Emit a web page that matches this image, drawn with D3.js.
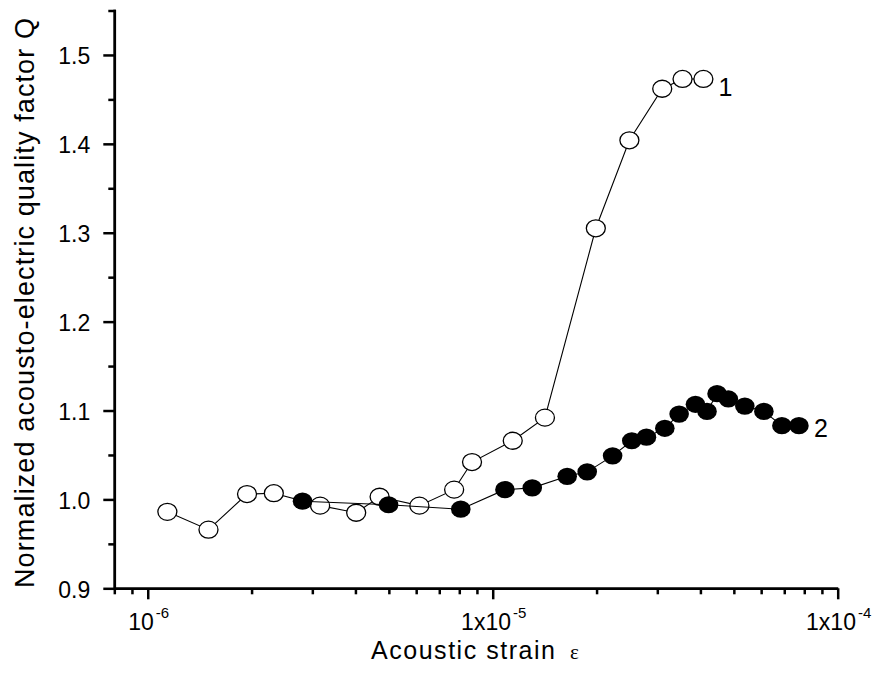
<!DOCTYPE html>
<html lang="en">
<head>
<meta charset="utf-8">
<script src="https://d3js.org/d3.v7.min.js"></script>
<style>
    body { margin: 0; background: white; }
    text { font-family: Arial, "Liberation Sans", sans-serif; fill: black; }
</style>
</head>
<body>
<div id="chart"></div>
<script>
    // curve 1 (open markers)
    const strain1 = [1.14e-6, 1.50e-6, 1.94e-6, 2.32e-6, 3.16e-6, 4.02e-6, 4.70e-6, 6.13e-6, 7.73e-6, 8.71e-6,
                     1.143e-5, 1.417e-5, 1.99e-5, 2.49e-5, 3.10e-5, 3.55e-5, 4.08e-5]
    const q1 = [0.986, 0.966, 1.006, 1.007, 0.993, 0.985, 1.003, 0.993, 1.011, 1.042,
                1.066, 1.092, 1.305, 1.404, 1.462, 1.473, 1.473]

    // curve 2 (filled markers)
    const strain2 = [2.81e-6, 4.99e-6, 8.08e-6, 1.085e-5, 1.302e-5, 1.644e-5, 1.879e-5, 2.226e-5, 2.53e-5, 2.79e-5,
                     3.154e-5, 3.47e-5, 3.87e-5, 4.18e-5, 4.47e-5, 4.82e-5, 5.38e-5, 6.11e-5, 6.89e-5, 7.72e-5]
    const q2 = [0.998, 0.994, 0.989, 1.011, 1.013, 1.026, 1.031, 1.049, 1.066, 1.070,
                1.080, 1.096, 1.107, 1.099, 1.119, 1.113, 1.105, 1.099, 1.083, 1.083]

    const xMajor = [1e-6, 1e-5, 1e-4]
    const xMajorLabels = [["10", "-6"], ["1x10", "-5"], ["1x10", "-4"]]
    const yMajor = [0.9, 1.0, 1.1, 1.2, 1.3, 1.4, 1.5]
    const yMinor = [0.95, 1.05, 1.15, 1.25, 1.35, 1.45, 1.55]

    const width = 877
    const height = 684

    const xScale = d3.scaleLog().domain([8e-7, 1e-4]).range([114.3, 837.7])
    const yScale = d3.scaleLinear().domain([0.9, 1.55]).range([588.3, 10.5])

    const xMinor = [8e-7, 9e-7]
    ;[1e-6, 1e-5].forEach(d => { for (let k = 2; k <= 9; k++) xMinor.push(k * d) })

    const svg = d3.select("#chart").append("svg")
        .attr("width", width)
        .attr("height", height)

    svg.append("rect").attr("width", width).attr("height", height).attr("fill", "white")

    // x axis
    const xAxisG = svg.append("g")
        .attr("transform", "translate(0," + yScale(0.9) + ")")
    xAxisG.append("g")
        .call(d3.axisBottom(xScale).tickValues(xMinor).tickSize(6).tickSizeOuter(0).tickFormat(""))
    xAxisG.append("g")
        .call(d3.axisBottom(xScale).tickValues(xMajor).tickSize(11).tickSizeOuter(0).tickFormat(""))
    xAxisG.selectAll("path, line").attr("stroke", "black").attr("stroke-width", 2.5)

    const xLab = svg.selectAll("text.xlab")
        .data(xMajor)
        .join("text")
        .attr("class", "xlab")
        .attr("x", d => xScale(d) + 1)
        .attr("y", 630)
        .attr("text-anchor", "middle")
        .style("font-size", "23px")
    xLab.append("tspan").text((d, i) => xMajorLabels[i][0])
    xLab.append("tspan")
        .attr("dx", 2)
        .attr("dy", -12)
        .style("font-size", "15px")
        .text((d, i) => xMajorLabels[i][1])

    // y axis
    const yAxisG = svg.append("g")
        .attr("transform", "translate(" + xScale(8e-7) + ",0)")
    yAxisG.append("g")
        .call(d3.axisLeft(yScale).tickValues(yMinor).tickSize(6).tickSizeOuter(0).tickFormat(""))
    yAxisG.append("g")
        .attr("class", "ymajor")
        .call(d3.axisLeft(yScale).tickValues(yMajor).tickSize(11).tickSizeOuter(0).tickPadding(13)
            .tickFormat(d3.format(".1f")))
    yAxisG.selectAll("path, line").attr("stroke", "black").attr("stroke-width", 2.5)
    yAxisG.selectAll(".ymajor text")
        .attr("font-family", null)
        .attr("font-size", null)
        .attr("dy", "0.38em")
        .style("font-size", "23px")
    yAxisG.selectAll(".domain").attr("stroke-linecap", "square")

    // axis titles
    svg.append("text")
        .attr("transform", "translate(34,588) rotate(-90)")
        .attr("textLength", 570)
        .attr("lengthAdjust", "spacing")
        .style("font-size", "27px")
        .text("Normalized acousto-electric quality factor Q")

    svg.append("text")
        .attr("x", 371)
        .attr("y", 659)
        .attr("textLength", 184)
        .attr("lengthAdjust", "spacing")
        .style("font-size", "25px")
        .text("Acoustic strain")
    svg.append("text")
        .attr("x", 570)
        .attr("y", 659)
        .style("font-family", "'Liberation Serif', 'Times New Roman', serif")
        .style("font-size", "21px")
        .text("ε")

    // series
    const pts1 = strain1.map((d, i) => ({x: d, y: q1[i]}))
    const pts2 = strain2.map((d, i) => ({x: d, y: q2[i]}))

    const line = d3.line().x(d => xScale(d.x)).y(d => yScale(d.y))

    svg.append("path")
        .datum(pts1)
        .attr("d", line)
        .attr("fill", "none")
        .attr("stroke", "black")
        .attr("stroke-width", 1.1)

    svg.append("g").selectAll("ellipse")
        .data(pts1)
        .join("ellipse")
        .attr("cx", d => xScale(d.x))
        .attr("cy", d => yScale(d.y))
        .attr("rx", 9.5)
        .attr("ry", 8.5)
        .attr("fill", "white")
        .attr("stroke", "black")
        .attr("stroke-width", 1.3)

    svg.append("path")
        .datum(pts2)
        .attr("d", line)
        .attr("fill", "none")
        .attr("stroke", "black")
        .attr("stroke-width", 1.1)

    svg.append("g").selectAll("ellipse")
        .data(pts2)
        .join("ellipse")
        .attr("cx", d => xScale(d.x))
        .attr("cy", d => yScale(d.y))
        .attr("rx", 9.8)
        .attr("ry", 8.6)
        .attr("fill", "black")

    // curve labels
    svg.append("text")
        .attr("x", xScale(strain1[strain1.length - 1]) + 15)
        .attr("y", yScale(q1[q1.length - 1]) + 17)
        .style("font-size", "25px")
        .text("1")
    svg.append("text")
        .attr("x", xScale(strain2[strain2.length - 1]) + 15)
        .attr("y", yScale(q2[q2.length - 1]) + 11)
        .style("font-size", "25px")
        .text("2")
</script>
</body>
</html>
